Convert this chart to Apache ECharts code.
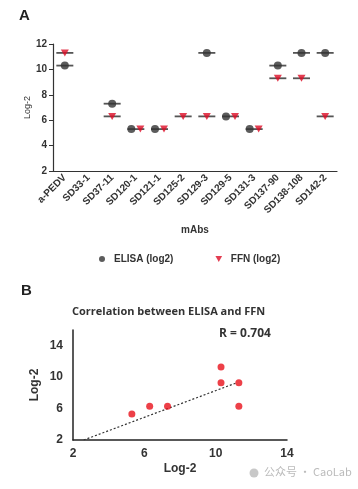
<!DOCTYPE html>
<html>
<head>
<meta charset="utf-8">
<script src="https://cdn.jsdelivr.net/npm/echarts@6/dist/echarts.min.js"></script>
<style>html,body{margin:0;padding:0;background:#fff;}#c{width:358px;height:489px;}</style>
</head>
<body>
<div id="c"></div>
<script>
// ---- Data ----
var categories = ['a-PEDV','SD33-1','SD37-11','SD120-1','SD121-1','SD125-2','SD129-3','SD129-5','SD131-3','SD137-90','SD138-108','SD142-2'];
var elisa = [10.3, null, 7.3, 5.3, 5.3, null, 11.3, 6.3, 5.3, 10.3, 11.3, 11.3];
var ffn   = [11.3, null, 6.3, 5.3, 5.3, 6.3, 6.3, 6.3, 5.3, 9.3, 9.3, 6.3];
var yTicksA = [2, 4, 6, 8, 10, 12];
var corrPoints = [[5.3,5.3],[6.3,6.3],[7.3,6.3],[10.3,11.3],[10.3,9.3],[11.3,9.3],[11.3,6.3]];
var trendLine = [[2.6, 2.0],[11.2, 9.3]];
var rText = 'R = 0.704';

// ---- Build ----
var FONT = '"Liberation Sans", Arial, sans-serif';
var invTri = 'path://M0,0 L10,0 L5,9 Z';

function pts(vals, other, dir) {
  return vals.map(function (v, i) {
    if (v == null) return null;
    var same = other[i] != null && other[i] === v;
    return { value: [i, v], symbolOffset: same ? [dir * 4.5, 0] : [0, 0] };
  }).filter(function (d) { return d; });
}
var barData = [];
categories.forEach(function (c, i) {
  if (elisa[i] != null) barData.push([i, elisa[i]]);
  if (ffn[i] != null && ffn[i] !== elisa[i]) barData.push([i, ffn[i]]);
});

var chart = echarts.init(document.getElementById('c'), null, { renderer: 'canvas' });
chart.setOption({
  animation: false,
  backgroundColor: '#fff',
  textStyle: { fontFamily: FONT },
  title: [
    { text: 'A', left: 14, top: 3, textStyle: { fontSize: 15, fontWeight: 'bold', color: '#222', fontFamily: FONT } },
    { text: 'B', left: 16, top: 278, textStyle: { fontSize: 15, fontWeight: 'bold', color: '#222', fontFamily: FONT } },
    { text: 'Correlation between ELISA and FFN', left: 67, top: 301, textStyle: { fontSize: 11, fontWeight: 'bold', color: '#333', fontFamily: '"Open Sans", sans-serif' } },
    { text: rText, left: 214, top: 323, textStyle: { fontSize: 12, fontWeight: 'bold', color: '#333', fontFamily: '"Open Sans", sans-serif' } }
  ],
  legend: {
    data: [
      { name: 'ELISA (log2)', icon: 'circle' },
      { name: 'FFN (log2)', icon: invTri }
    ],
    left: 94, top: 249,
    itemWidth: 14, itemHeight: 6, itemGap: 42,
    textStyle: { fontSize: 10, fontWeight: 'bold', color: '#333', fontFamily: FONT }
  },
  grid: [
    { left: 53, top: 44, width: 284, height: 127 },
    { left: 73, top: 330, width: 214, height: 110 }
  ],
  xAxis: [
    {
      gridIndex: 0, type: 'category', data: categories, boundaryGap: true,
      name: 'mAbs', nameLocation: 'middle', nameGap: 54, nameMoveOverlap: false,
      nameTextStyle: { fontSize: 10, fontWeight: 'bold', color: '#333', fontFamily: FONT },
      axisLine: { lineStyle: { color: '#333', width: 1.2 } },
      axisTick: { alignWithLabel: true, length: 4, lineStyle: { color: '#333' } },
      axisLabel: { rotate: 45, fontSize: 10, fontWeight: 'bold', color: '#333', margin: 5, interval: 0, fontFamily: FONT },
      splitLine: { show: false }
    },
    {
      gridIndex: 1, type: 'value', min: 2, max: 14, interval: 4,
      name: 'Log-2', nameLocation: 'middle', nameGap: 23, nameMoveOverlap: false,
      nameTextStyle: { fontSize: 12, fontWeight: 'bold', color: '#333', fontFamily: FONT },
      axisLine: { lineStyle: { color: '#222', width: 1.5 } },
      axisTick: { show: false },
      axisLabel: { fontSize: 12, fontWeight: 'bold', color: '#333', margin: 8, fontFamily: FONT },
      splitLine: { show: false }
    }
  ],
  yAxis: [
    {
      gridIndex: 0, type: 'value', min: yTicksA[0], max: yTicksA[yTicksA.length - 1], interval: 2,
      name: 'Log-2', nameLocation: 'middle', nameGap: 21, nameMoveOverlap: false,
      nameTextStyle: { fontSize: 9, color: '#333', fontFamily: FONT },
      axisLine: { show: true, lineStyle: { color: '#333', width: 1.2 } },
      axisTick: { show: true, length: 4, lineStyle: { color: '#333' } },
      axisLabel: { fontSize: 10, fontWeight: 'bold', color: '#333', margin: 6, fontFamily: FONT },
      splitLine: { show: false }
    },
    {
      gridIndex: 1, type: 'value', min: 2, max: 16, interval: 4,
      name: 'Log-2', nameLocation: 'middle', nameGap: 32, nameMoveOverlap: false,
      nameTextStyle: { fontSize: 12, fontWeight: 'bold', color: '#333', fontFamily: FONT },
      axisLine: { show: true, lineStyle: { color: '#222', width: 1.5 } },
      axisTick: { show: false },
      axisLabel: { fontSize: 12, fontWeight: 'bold', color: '#333', margin: 10, showMaxLabel: false, fontFamily: FONT },
      splitLine: { show: false }
    }
  ],
  series: [
    {
      name: 'bars', type: 'scatter', xAxisIndex: 0, yAxisIndex: 0,
      symbol: 'rect', symbolSize: [17, 1.8], data: barData,
      itemStyle: { color: '#2a2a2a' }, silent: true, z: 1
    },
    {
      name: 'ELISA (log2)', type: 'scatter', xAxisIndex: 0, yAxisIndex: 0,
      symbol: 'circle', symbolSize: 8, data: pts(elisa, ffn, -1),
      itemStyle: { color: '#333' }, z: 3
    },
    {
      name: 'FFN (log2)', type: 'scatter', xAxisIndex: 0, yAxisIndex: 0,
      symbol: invTri, symbolSize: [8, 7], data: pts(ffn, elisa, 1),
      itemStyle: { color: '#dc0d26' }, z: 3
    },
    {
      name: 'trend', type: 'line', xAxisIndex: 1, yAxisIndex: 1,
      data: trendLine, symbol: 'none',
      lineStyle: { color: '#333', width: 1.2, type: [2, 2] }, z: 2
    },
    {
      name: 'corr', type: 'scatter', xAxisIndex: 1, yAxisIndex: 1,
      symbol: 'circle', symbolSize: 7, data: corrPoints,
      itemStyle: { color: '#e8101a' }, z: 3
    }
  ],
  graphic: [
    { type: 'circle', shape: { cx: 254, cy: 473, r: 4.5 }, style: { fill: '#c8c8c8' } },
    { type: 'text', left: 264, top: 466, style: { text: '公众号 · CaoLab', fill: '#bbbbbb', fontSize: 11, fontFamily: '"Noto Sans CJK SC", sans-serif' } }
  ]
});
</script>
</body>
</html>
